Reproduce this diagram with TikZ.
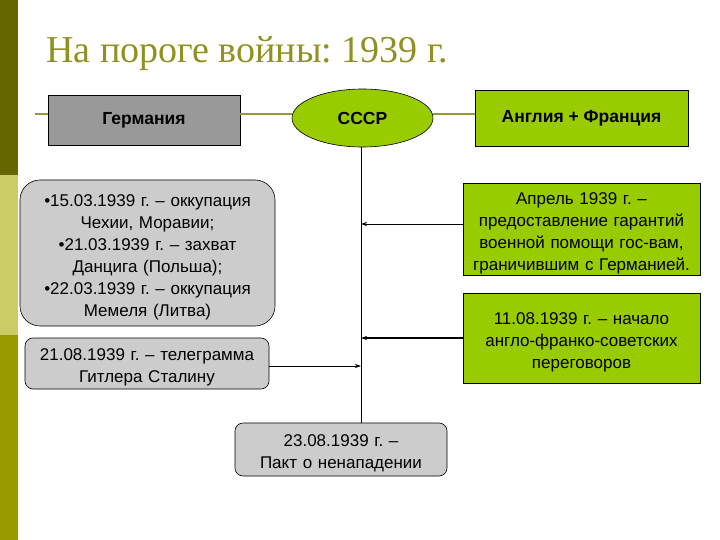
\documentclass[tikz,border=0pt]{standalone}
\usepackage{fontspec}
\setmainfont{Liberation Sans}
\newfontfamily\titlefont{Liberation Serif}
\usetikzlibrary{shapes.geometric,arrows.meta}
\frenchspacing
\definecolor{olivedark}{RGB}{102,102,0}
\definecolor{olivelight}{RGB}{204,204,102}
\definecolor{olivemid}{RGB}{153,153,0}
\definecolor{titlecol}{RGB}{145,145,35}
\definecolor{linecol}{RGB}{153,153,51}
\definecolor{greenbox}{RGB}{153,204,0}
\definecolor{graybox}{RGB}{153,153,153}
\definecolor{lightgray}{RGB}{204,204,204}
\tikzset{
  txt/.style={font=\fontsize{17}{22}\selectfont, align=center, text=black, inner sep=0pt, text height=20pt},
  hdr/.style={font=\bfseries\fontsize{17.5}{20}\selectfont, text=black, draw=black, line width=0.6pt},
  greybox/.style={txt, draw=black, fill=lightgray, line width=0.6pt},
  grnbox/.style={txt, draw=black, fill=greenbox, line width=0.6pt},
  conn/.style={draw=black, line width=0.8pt},
  arr/.style={conn, -{Stealth[length=6pt,width=4pt]}},
}
\begin{document}
\begin{tikzpicture}[x=1pt,y=-1pt]
\useasboundingbox (0,0) rectangle (720,540);
\fill[white] (0,0) rectangle (720,540);
% left strip
\fill[olivedark] (0,0) rectangle (18,175);
\fill[olivelight] (0,175) rectangle (18,335);
\fill[olivemid] (0,335) rectangle (18,540);
% title
\node[anchor=base west, inner sep=0, text=titlecol, font=\titlefont\fontsize{38}{42}\selectfont] (title) at (46,63) {На пороге войны: 1939 г.};
% header nodes
\node[hdr, fill=graybox, minimum width=192pt, minimum height=50pt] (germ) at (144,120) {Германия};
\node[hdr, ellipse, fill=greenbox, minimum width=141pt, minimum height=58pt] (ussr) at (362.5,118) {СССР};
\node[hdr, fill=greenbox, minimum width=213pt, minimum height=56pt] (ang) at (581.5,118) {Англия + Франция};
\coordinate (lstart) at (35,114);
\draw[linecol, line width=1.5pt] (lstart) -- (germ.west |- lstart);
\draw[linecol, line width=1.5pt] (germ.east |- lstart) -- (ussr.west |- lstart);
\draw[linecol, line width=1.5pt] (ussr.east |- lstart) -- (ang.west |- lstart);
% left boxes
\node[greybox, rounded corners=20pt, minimum width=255pt, minimum height=146pt, text width=250pt] (occ) at (147.5,253) {•15.03.1939 г. – оккупация\\Чехии, Моравии;\\•21.03.1939 г. – захват\\Данцига (Польша);\\•22.03.1939 г. – оккупация\\Мемеля (Литва)};
\node[greybox, rounded corners=8pt, minimum width=244pt, minimum height=51pt, text width=240pt] (tel) at (147,363.5) {21.08.1939 г. – телеграмма\\Гитлера Сталину};
% right boxes
\node[grnbox, minimum width=237pt, minimum height=92pt, text width=235pt] (apr) at (581.5,229) {Апрель 1939 г. –\\предоставление гарантий\\военной помощи гос-вам,\\граничившим с Германией.};
\node[grnbox, minimum width=237pt, minimum height=90pt, text width=235pt] (aug) at (581.5,338) {11.08.1939 г. – начало\\англо-франко-советских\\переговоров};
% pact
\node[greybox, rounded corners=8pt, minimum width=212pt, minimum height=53pt, text width=205pt] (pact) at (341,449.5) {23.08.1939 г. –\\Пакт о ненападении};
% vertical line
\coordinate (vtop) at (361,147);
\coordinate (vbot) at (361,423);
\draw[conn] (vtop) -- (vbot);
\coordinate (p1) at (361,224);
\coordinate (p2) at (361,338);
\coordinate (p3) at (361,366);
\draw[arr] (apr.west |- p1) -- (p1);
\draw[arr, line width=1.4pt] (aug.west |- p2) -- (p2);
\draw[arr] (tel.east |- p3) -- (p3);
\end{tikzpicture}
\end{document}
